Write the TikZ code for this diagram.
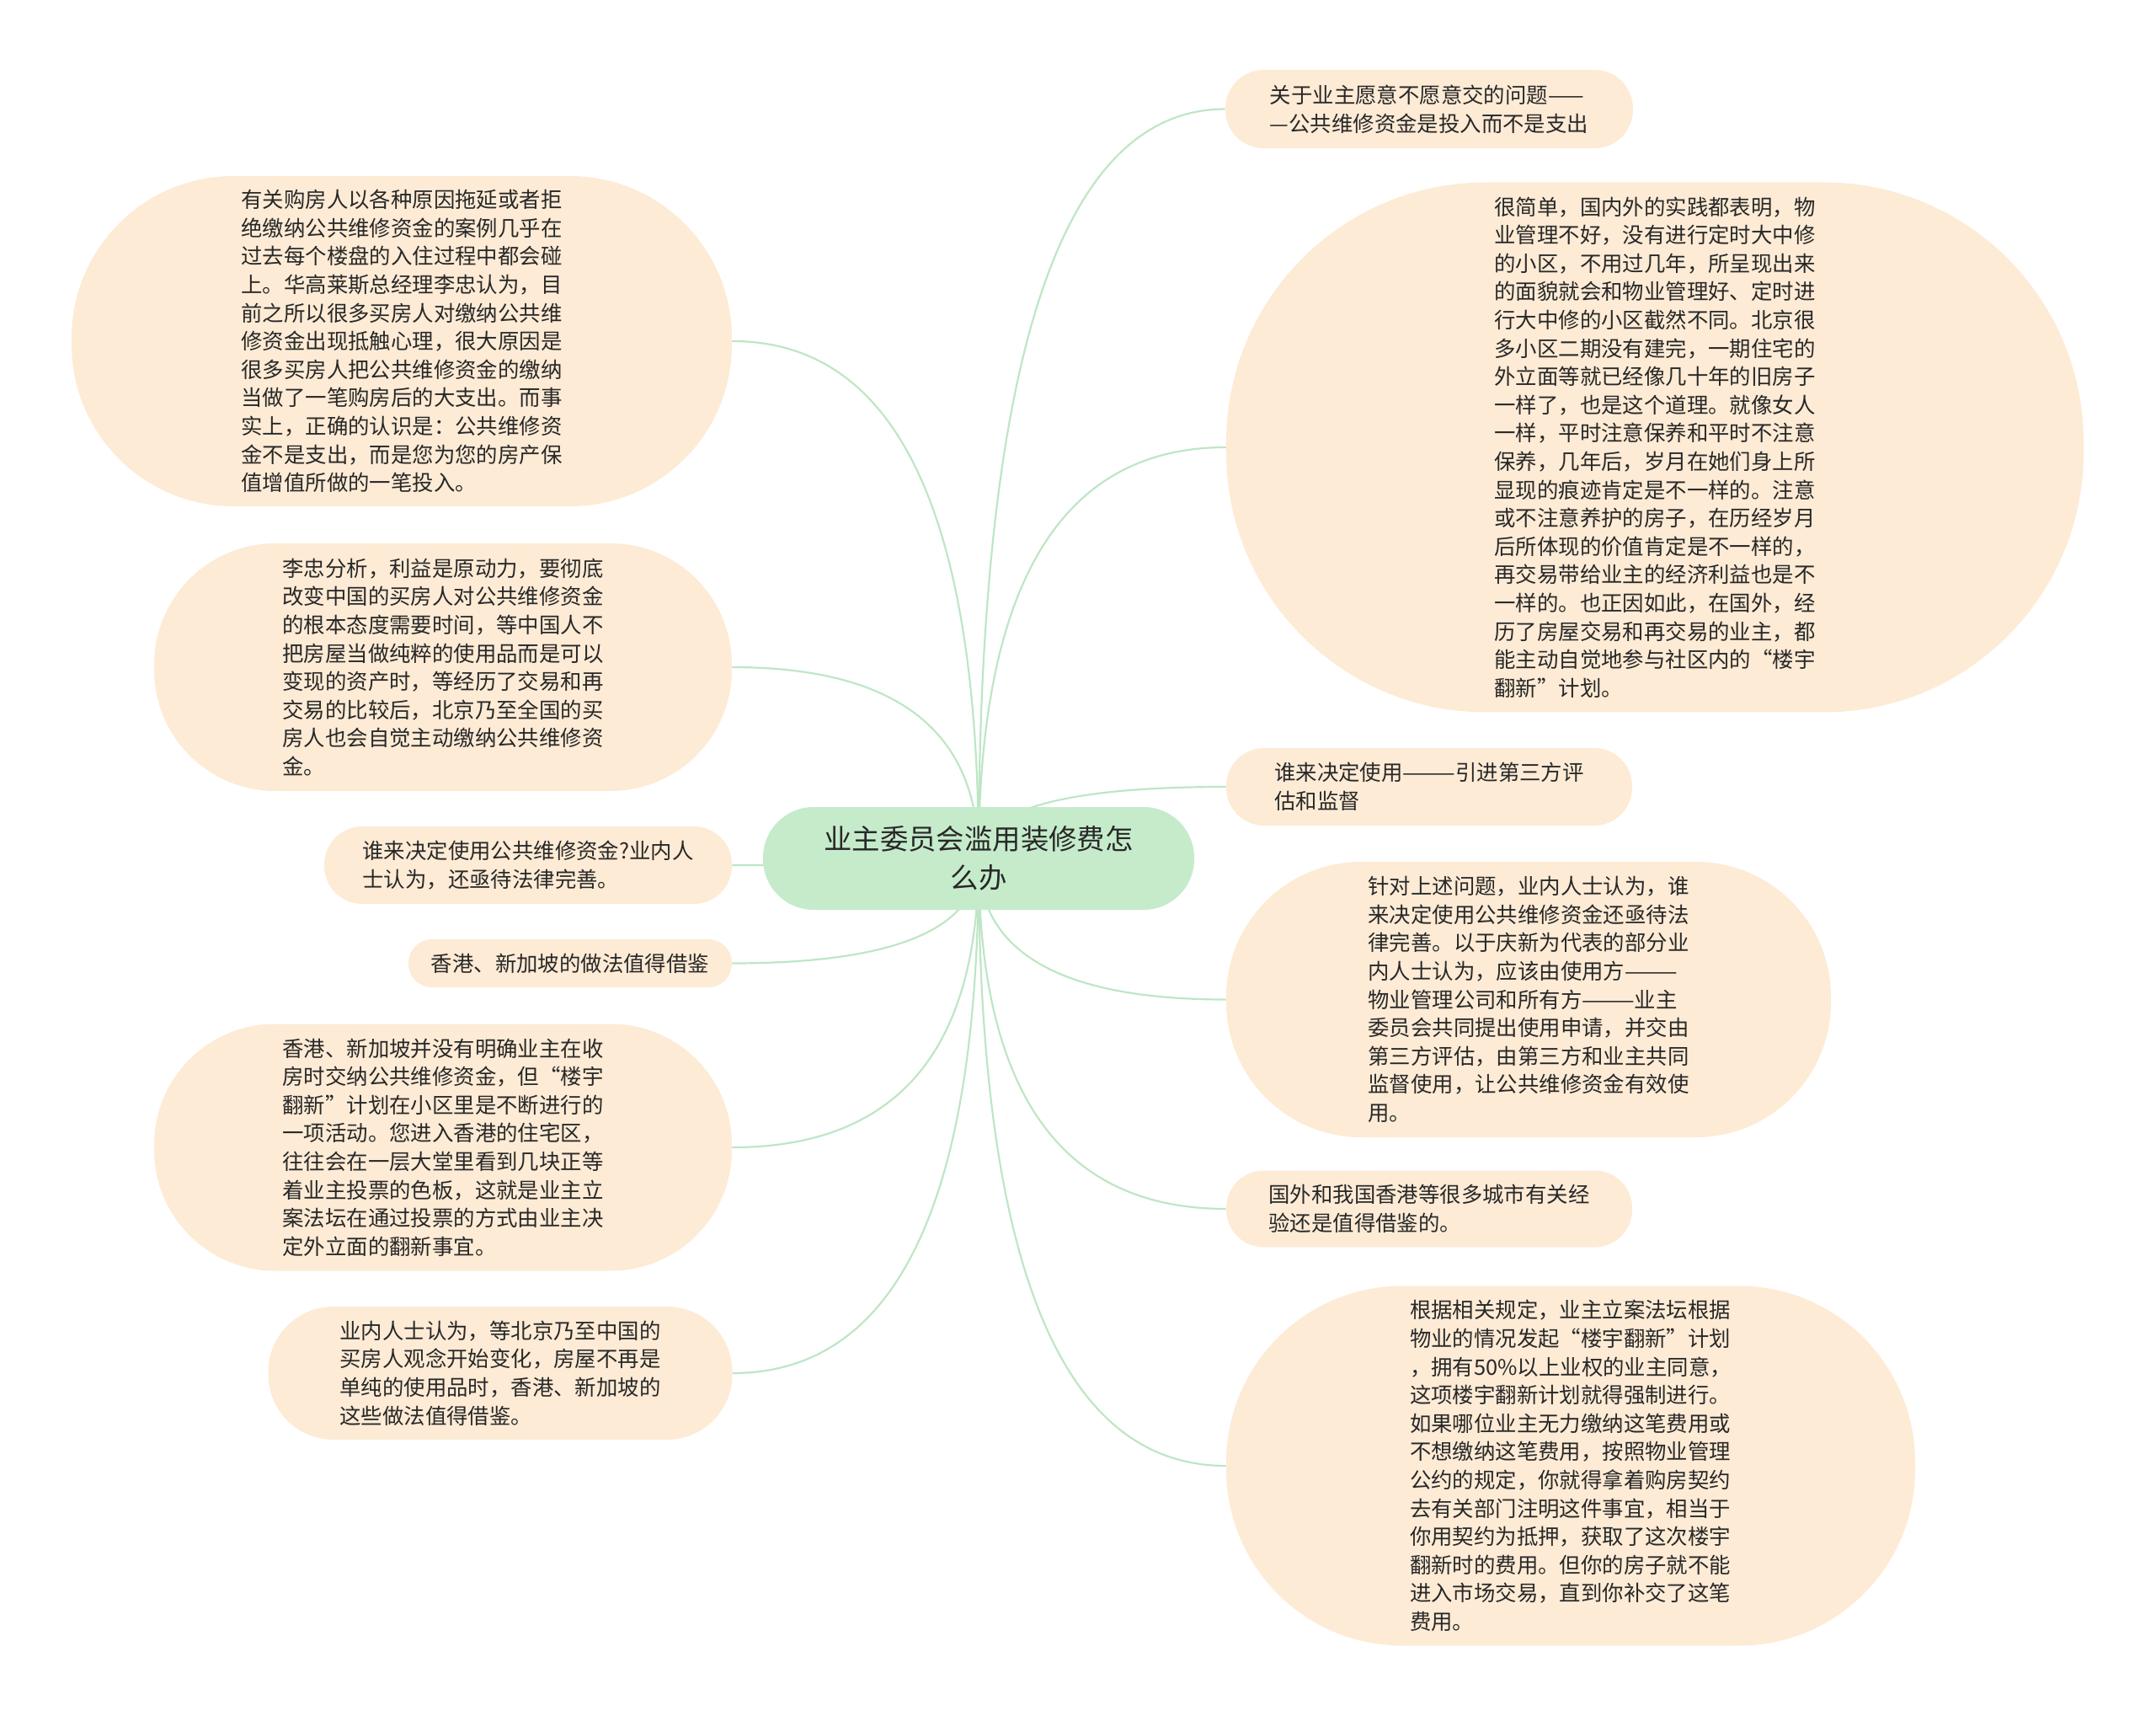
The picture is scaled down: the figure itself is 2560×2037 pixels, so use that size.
\documentclass[tikz,border=0pt]{standalone}
\usepackage{fontspec}
\newfontfamily\cjk{Noto Sans CJK SC}
\usetikzlibrary{calc,backgrounds}
\definecolor{blatt}{RGB}{253,235,213}
\definecolor{wurzel}{RGB}{197,235,203}
\definecolor{linie}{RGB}{190,230,197}
\definecolor{schrift}{RGB}{40,40,40}
\tikzset{
	blatt/.style 2 args={fill=blatt, text=schrift, align=left, inner sep=0pt,
		minimum width=#1*0.5pt, minimum height=#2*0.5pt, rounded corners=#2*0.245pt,
		font=\cjk\fontsize{12.7}{16.8}\selectfont},
	ast/.style={draw=linie, line width=1.1pt},
}
\begin{document}
\begin{tikzpicture}[x=0.5pt,y=-0.5pt]
	\useasboundingbox (0,0) rectangle (2560,2037);
	\node[fill=wurzel, text=schrift, align=center, inner sep=0pt, minimum width=256pt, minimum height=61pt,
		rounded corners=30pt, font=\cjk\fontsize{16.7}{23}\selectfont] (root) at (1162,1019) {业主委员会滥用装修费怎\\么办};%Wurzel

	%rechte Seite
	\node[blatt={484}{93}] (r1) at (1697,129.5) {关于业主愿意不愿意交的问题——\\
—公共维修资金是投入而不是支出};
	\node[blatt={1018}{629}] (r2) at (1965,531) {很简单，国内外的实践都表明，物\\
业管理不好，没有进行定时大中修\\
的小区，不用过几年，所呈现出来\\
的面貌就会和物业管理好、定时进\\
行大中修的小区截然不同。北京很\\
多小区二期没有建完，一期住宅的\\
外立面等就已经像几十年的旧房子\\
一样了，也是这个道理。就像女人\\
一样，平时注意保养和平时不注意\\
保养，几年后，岁月在她们身上所\\
显现的痕迹肯定是不一样的。注意\\
或不注意养护的房子，在历经岁月\\
后所体现的价值肯定是不一样的，\\
再交易带给业主的经济利益也是不\\
一样的。也正因如此，在国外，经\\
历了房屋交易和再交易的业主，都\\
能主动自觉地参与社区内的“楼宇\\
翻新”计划。};
	\node[blatt={482}{92}] (r3) at (1697,934) {谁来决定使用———引进第三方评\\
估和监督};
	\node[blatt={718}{327}] (r4) at (1815,1186.5) {针对上述问题，业内人士认为，谁\\
来决定使用公共维修资金还亟待法\\
律完善。以于庆新为代表的部分业\\
内人士认为，应该由使用方———\\
物业管理公司和所有方———业主\\
委员会共同提出使用申请，并交由\\
第三方评估，由第三方和业主共同\\
监督使用，让公共维修资金有效使\\
用。};
	\node[blatt={482}{91}] (r5) at (1697,1435) {国外和我国香港等很多城市有关经\\
验还是值得借鉴的。};
	\node[blatt={818}{427}] (r6) at (1865,1740) {根据相关规定，业主立案法坛根据\\
物业的情况发起“楼宇翻新”计划\\
，拥有50\%以上业权的业主同意，\\
这项楼宇翻新计划就得强制进行。\\
如果哪位业主无力缴纳这笔费用或\\
不想缴纳这笔费用，按照物业管理\\
公约的规定，你就得拿着购房契约\\
去有关部门注明这件事宜，相当于\\
你用契约为抵押，获取了这次楼宇\\
翻新时的费用。但你的房子就不能\\
进入市场交易，直到你补交了这笔\\
费用。};

	%linke Seite
	\node[blatt={784}{392}] (l1) at (477,405) {有关购房人以各种原因拖延或者拒\\
绝缴纳公共维修资金的案例几乎在\\
过去每个楼盘的入住过程中都会碰\\
上。华高莱斯总经理李忠认为，目\\
前之所以很多买房人对缴纳公共维\\
修资金出现抵触心理，很大原因是\\
很多买房人把公共维修资金的缴纳\\
当做了一笔购房后的大支出。而事\\
实上，正确的认识是：公共维修资\\
金不是支出，而是您为您的房产保\\
值增值所做的一笔投入。};
	\node[blatt={686}{294}] (l2) at (526,792) {李忠分析，利益是原动力，要彻底\\
改变中国的买房人对公共维修资金\\
的根本态度需要时间，等中国人不\\
把房屋当做纯粹的使用品而是可以\\
变现的资产时，等经历了交易和再\\
交易的比较后，北京乃至全国的买\\
房人也会自觉主动缴纳公共维修资\\
金。};
	\node[blatt={484}{92}] (l3) at (627,1027) {谁来决定使用公共维修资金?业内人\\
士认为，还亟待法律完善。};
	\node[blatt={384}{57}] (l4) at (677,1143.5) {香港、新加坡的做法值得借鉴};
	\node[blatt={686}{293}] (l5) at (526,1362) {香港、新加坡并没有明确业主在收\\
房时交纳公共维修资金，但“楼宇\\
翻新”计划在小区里是不断进行的\\
一项活动。您进入香港的住宅区，\\
往往会在一层大堂里看到几块正等\\
着业主投票的色板，这就是业主立\\
案法坛在通过投票的方式由业主决\\
定外立面的翻新事宜。};
	\node[blatt={551}{158}] (l6) at (594,1630) {业内人士认为，等北京乃至中国的\\
买房人观念开始变化，房屋不再是\\
单纯的使用品时，香港、新加坡的\\
这些做法值得借鉴。};

	%Aeste hinter den Knoten
	\begin{scope}[on background layer]
		\foreach \n in {r1,r2,r3,r4,r5,r6} {
			\coordinate (k) at (root.center |- \n.west);
			\draw[ast] (root.center) .. controls ($(root.center)!0.667!(k)$) and ($(\n.west)!0.667!(k)$) .. (\n.west);
		}
		\foreach \n in {l1,l2,l3,l4,l5,l6} {
			\coordinate (k) at (root.center |- \n.east);
			\draw[ast] (root.center) .. controls ($(root.center)!0.667!(k)$) and ($(\n.east)!0.667!(k)$) .. (\n.east);
		}
	\end{scope}
\end{tikzpicture}
\end{document}
